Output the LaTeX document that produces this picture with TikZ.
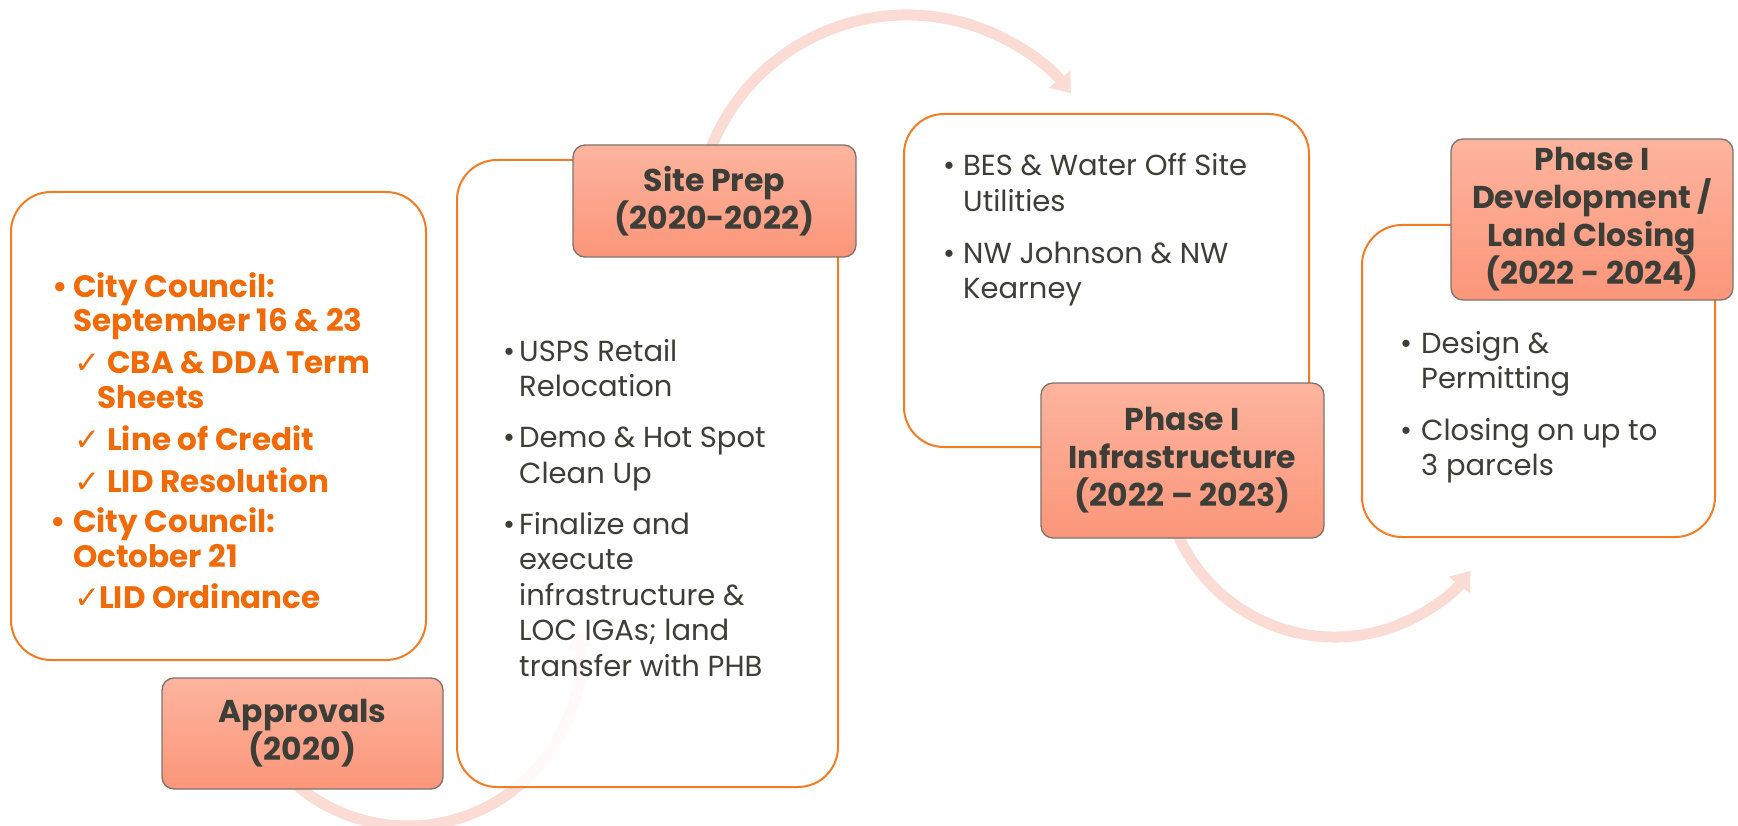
\documentclass[tikz,border=0pt]{standalone}
\usepackage{fontspec}
\setmainfont{Poppins}
\newfontfamily\symfont{DejaVu Sans}
\usetikzlibrary{arrows.meta,calc}

\definecolor{boxline}{RGB}{242,124,36}
\definecolor{orangetext}{RGB}{240,106,8}
\definecolor{darktext}{RGB}{62,62,56}
\definecolor{tagtop}{RGB}{253,180,158}
\definecolor{tagbot}{RGB}{251,150,122}
\definecolor{tagline}{RGB}{125,115,108}
\definecolor{flow}{RGB}{251,220,212}

\newcommand{\chk}{{\symfont ✓}}

% multi-line list nodes are anchored at the baseline of their last line
\tikzset{
  panel/.style={draw=boxline, line width=2pt, fill=white, fill opacity=0.88,
    rounded corners=40pt, inner sep=0pt, outer sep=0pt},
  tag/.style={draw=tagline, line width=1.3pt, top color=tagtop, bottom color=tagbot,
    rounded corners=12pt, inner sep=0pt, align=center, text=darktext,
    font=\bfseries\fontsize{31.5}{38}\selectfont},
  flowarrow/.style={draw=flow, line width=11pt, -{Triangle[width=26pt,length=18pt]}},
  listtext/.style={anchor=base west, inner sep=0pt, align=left, text=darktext,
    font=\fontsize{29}{35.5}\selectfont},
  keytext/.style={anchor=base west, inner sep=0pt, align=left, text=orangetext,
    font=\bfseries\fontsize{31}{35}\selectfont},
}

\begin{document}
\begin{tikzpicture}[x=1pt, y=-1pt]
  \path[use as bounding box] (0,0) rectangle (1738,826);
  \clip (0,0) rectangle (1738,826);

  % curved flow arrows, behind everything
  \coordinate (cA) at (408,654);
  \coordinate (cB) at (907,226);
  \coordinate (cC) at (1335,465);
  \coordinate (arcAstart) at ($(cA)+(132:172)$);
  \coordinate (arcBstart) at ($(cB)+(200:211)$);
  \coordinate (arcCstart) at ($(cC)+(158:172)$);
  \draw[flowarrow] (arcAstart) arc[start angle=132, end angle=-8, radius=172];
  \draw[flowarrow] (arcBstart) arc[start angle=200, end angle=321, radius=211];
  \draw[flowarrow] (arcCstart) arc[start angle=158, end angle=38, radius=172];

  % content panels
  \node[panel, minimum width=415pt, minimum height=468pt] (b1) at (218.5,426) {};
  \node[panel, minimum width=381pt, minimum height=627pt] (b2) at (647.5,473.5) {};
  \node[panel, minimum width=405pt, minimum height=333pt] (b3) at (1106.5,280.5) {};
  \node[panel, minimum width=353pt, minimum height=312pt] (b4) at (1538.5,381) {};

  % phase tags
  \node[tag, minimum width=281pt, minimum height=111pt] (l1) at (302.5,733.5)
    {Approvals\\(2020)};
  \node[tag, minimum width=283pt, minimum height=112pt] (l2) at (714.5,201)
    {Site Prep\\(2020-2022)};
  \node[tag, minimum width=283pt, minimum height=155pt] (l3) at (1182.5,460.5)
    {Phase I\\Infrastructure\\(2022 – 2023)};
  \node[tag, minimum width=282pt, minimum height=161pt] (l4) at (1592,219.5)
    {Phase I\\Development /\\Land Closing\\(2022 - 2024)};

  % approvals list
  \node[keytext] (t1a) at (52,332)
    {\makebox[21pt][l]{•}City Council:\\\hspace*{21pt}September 16 \& 23};
  \node[keytext] (t1b) at (74,408)
    {\makebox[33pt][l]{\chk}CBA \& DDA Term\\\hspace*{23pt}Sheets};
  \node[keytext] (t1c) at (74,450) {\makebox[33pt][l]{\chk}Line of Credit};
  \node[keytext] (t1d) at (74,492) {\makebox[33pt][l]{\chk}LID Resolution};
  \node[keytext] (t1e) at (50,567)
    {\makebox[23pt][l]{•}City Council:\\\hspace*{23pt}October 21};
  \node[keytext] (t1f) at (74,608) {\makebox[25pt][l]{\chk}LID Ordinance};

  % site prep list
  \node[listtext] (t2a) at (503,396.5)
    {\makebox[16pt][l]{•}USPS Retail\\\hspace*{16pt}Relocation};
  \node[listtext] (t2b) at (503,483)
    {\makebox[16pt][l]{•}Demo \& Hot Spot\\\hspace*{16pt}Clean Up};
  \node[listtext] (t2c) at (503,676)
    {\makebox[16pt][l]{•}Finalize and\\\hspace*{16pt}execute\\\hspace*{16pt}infrastructure \&\\
     \hspace*{16pt}LOC IGAs; land\\\hspace*{16pt}transfer with PHB};

  % infrastructure list
  \node[listtext] (t3a) at (943,211.5)
    {\makebox[20pt][l]{•}BES \& Water Off Site\\\hspace*{20pt}Utilities};
  \node[listtext] (t3b) at (943,298.5)
    {\makebox[20pt][l]{•}NW Johnson \& NW\\\hspace*{20pt}Kearney};

  % development list
  \node[listtext] (t4a) at (1400,388.5)
    {\makebox[21pt][l]{•}Design \&\\\hspace*{21pt}Permitting};
  \node[listtext] (t4b) at (1400,475.5)
    {\makebox[21pt][l]{•}Closing on up to\\\hspace*{21pt}3 parcels};
\end{tikzpicture}
\end{document}
